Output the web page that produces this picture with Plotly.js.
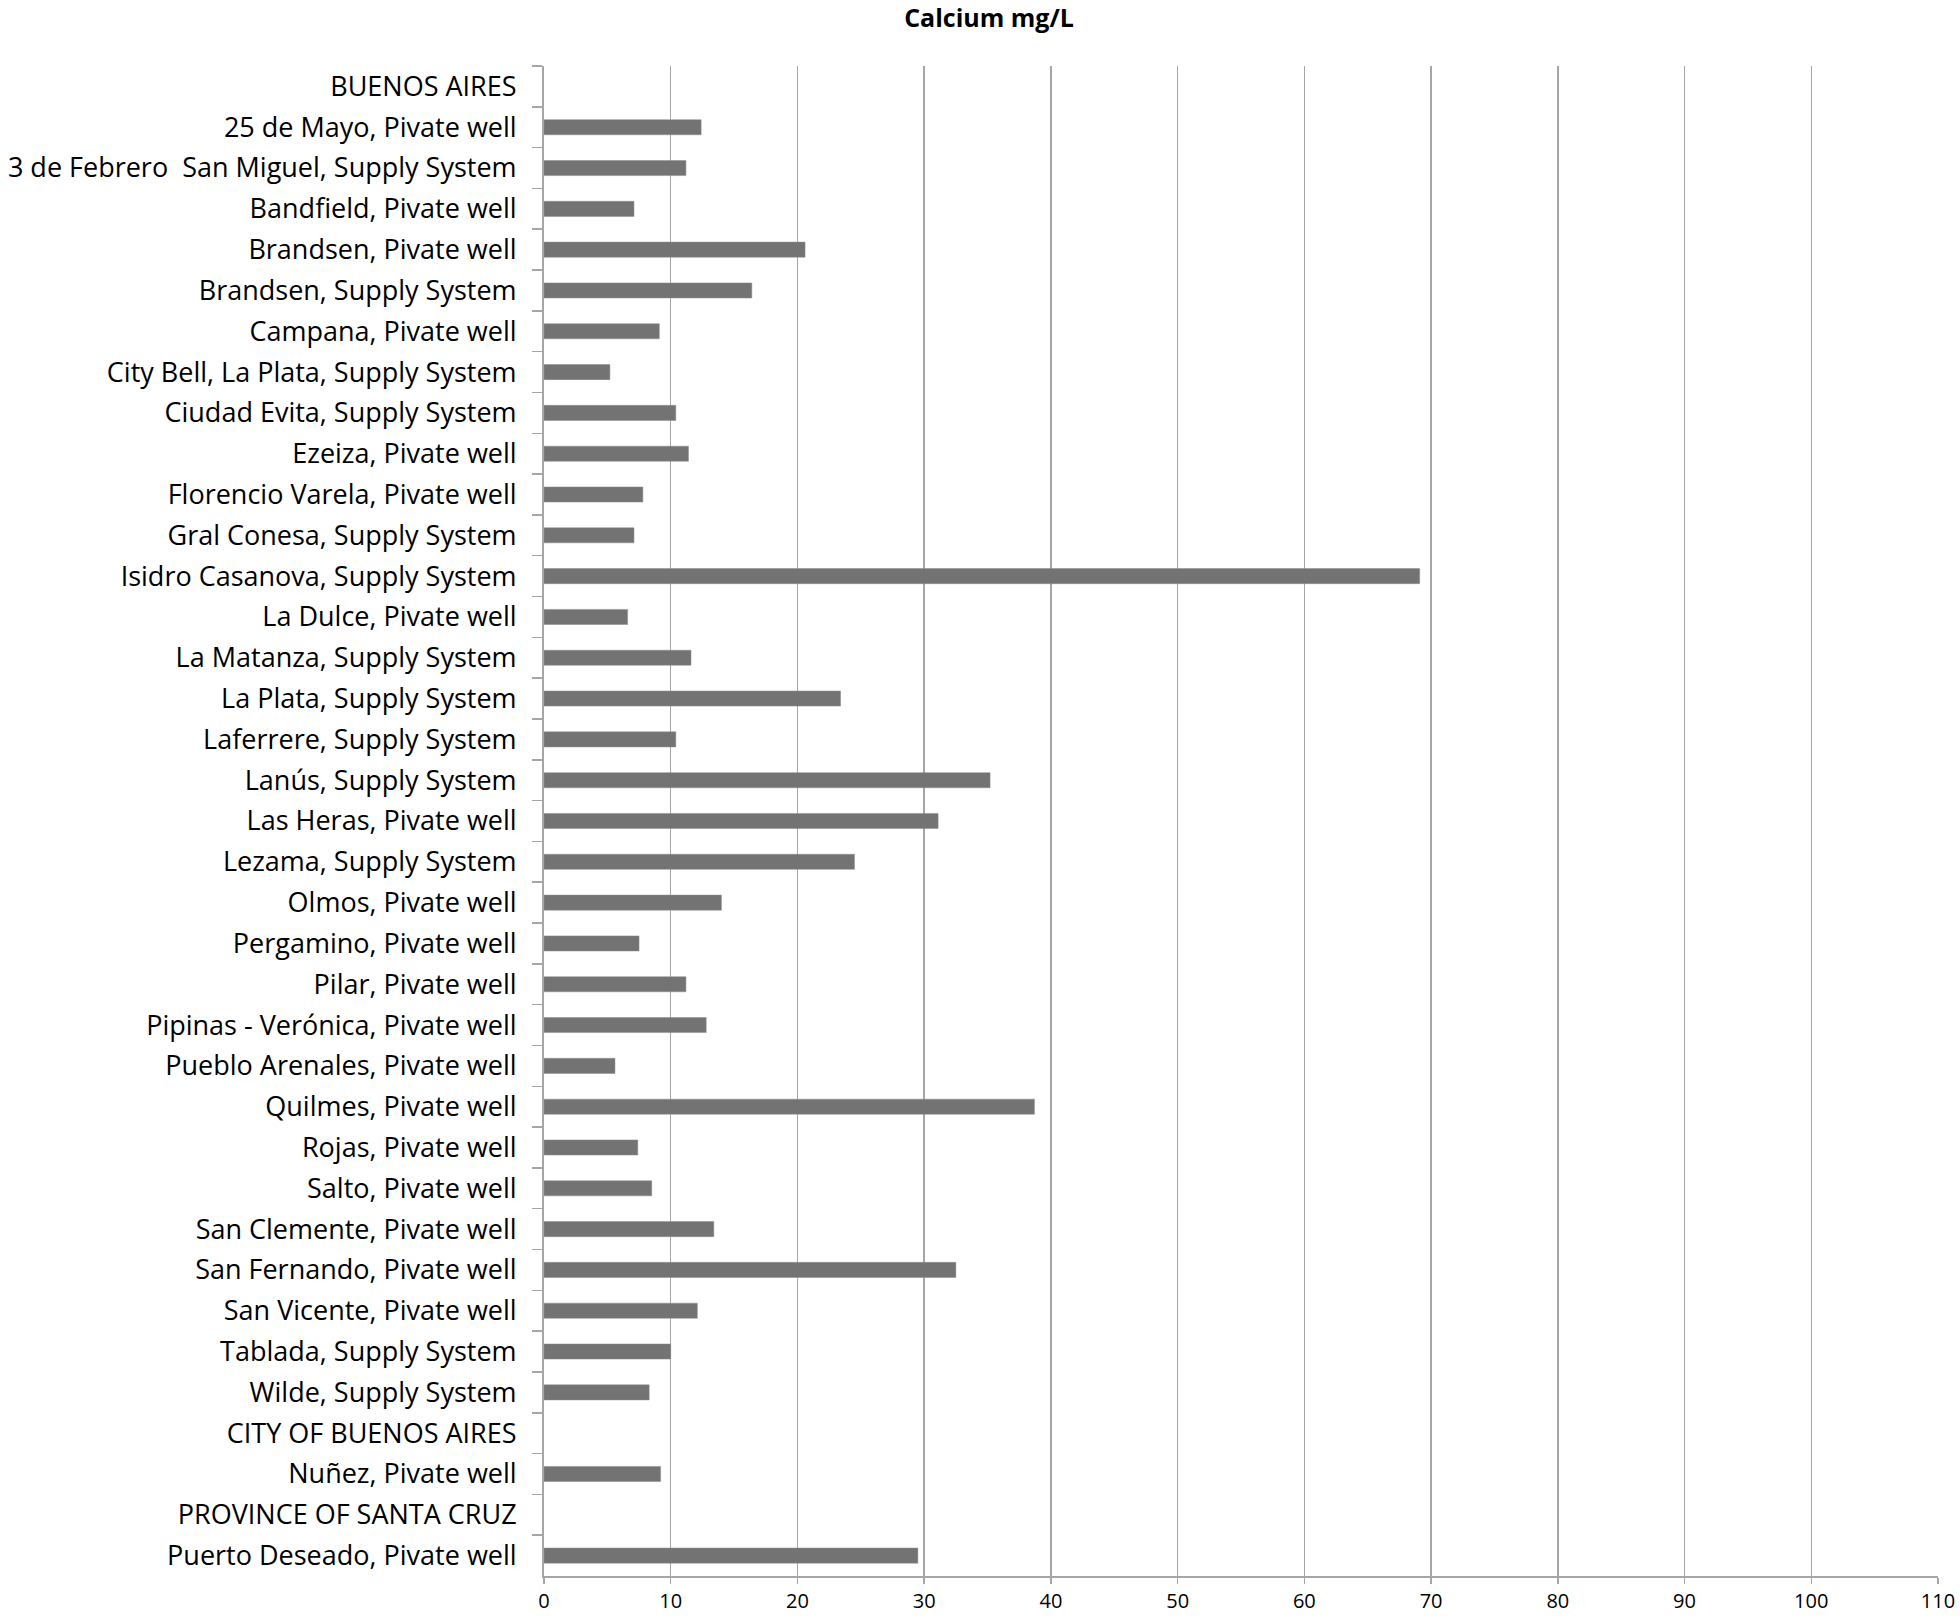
<!DOCTYPE html>
<html>
<head>
<meta charset="utf-8">
<script src="https://cdn.plot.ly/plotly-3.0.1.min.js"></script>
<style>
  html, body { margin: 0; padding: 0; background: #fff; }
  #chart { width: 1960px; height: 1618px; }
</style>
</head>
<body>
<div id="chart"></div>
<script>
// sampling sites, top to bottom (section headers have no value)
var sites = [
  'BUENOS AIRES',
  '25 de Mayo, Pivate well',
  '3 de Febrero \u00a0San Miguel, Supply System',
  'Bandfield, Pivate well',
  'Brandsen, Pivate well',
  'Brandsen, Supply System',
  'Campana, Pivate well',
  'City Bell, La Plata, Supply System',
  'Ciudad Evita, Supply System',
  'Ezeiza, Pivate well',
  'Florencio Varela, Pivate well',
  'Gral Conesa, Supply System',
  'Isidro Casanova, Supply System',
  'La Dulce, Pivate well',
  'La Matanza, Supply System',
  'La Plata, Supply System',
  'Laferrere, Supply System',
  'Lanús, Supply System',
  'Las Heras, Pivate well',
  'Lezama, Supply System',
  'Olmos, Pivate well',
  'Pergamino, Pivate well',
  'Pilar, Pivate well',
  'Pipinas - Verónica, Pivate well',
  'Pueblo Arenales, Pivate well',
  'Quilmes, Pivate well',
  'Rojas, Pivate well',
  'Salto, Pivate well',
  'San Clemente, Pivate well',
  'San Fernando, Pivate well',
  'San Vicente, Pivate well',
  'Tablada, Supply System',
  'Wilde, Supply System',
  'CITY OF BUENOS AIRES',
  'Nuñez, Pivate well',
  'PROVINCE OF SANTA CRUZ',
  'Puerto Deseado, Pivate well'
];

var calcium = [
  null, 12.4, 11.2, 7.1, 20.6, 16.4, 9.1, 5.2, 10.4, 11.4,
  7.8, 7.1, 69.1, 6.6, 11.6, 23.4, 10.4, 35.2, 31.1, 24.5,
  14.0, 7.5, 11.2, 12.8, 5.6, 38.7, 7.4, 8.5, 13.4, 32.5,
  12.1, 10.0, 8.3, null, 9.2, null, 29.5
];

var xTicks = [0, 10, 20, 30, 40, 50, 60, 70, 80, 90, 100, 110];

var trace = {
  type: 'bar',
  orientation: 'h',
  x: calcium,
  y: sites,
  marker: {color: '#737373', line: {color: '#8c8c8c', width: 0.5}},
  hoverinfo: 'x+y'
};

var layout = {
  width: 1960,
  height: 1618,
  paper_bgcolor: '#ffffff',
  plot_bgcolor: '#ffffff',
  font: {family: 'Open Sans, Lato, sans-serif', color: '#000'},
  margin: {l: 544, r: 22, t: 66, b: 42},
  title: {
    text: '<b>Calcium mg/L</b>',
    font: {size: 25, family: 'Open Sans, sans-serif', color: '#000'},
    xref: 'container', x: 0.5046,
    yref: 'container', y: 0.9885, yanchor: 'middle'
  },
  bargap: 0.63,
  showlegend: false,
  xaxis: {
    range: [0, 110],
    tickvals: xTicks,
    ticktext: xTicks.map(String),
    showgrid: true,
    gridcolor: '#a6a6a6',
    gridwidth: 1.5,
    zeroline: false,
    showline: true,
    linecolor: '#a6a6a6',
    linewidth: 2,
    ticks: 'outside',
    ticklen: 6,
    tickcolor: '#a6a6a6',
    tickwidth: 1.5,
    tickfont: {size: 20, color: '#000'},
    ticklabelstandoff: 0,
    fixedrange: true
  },
  yaxis: {
    type: 'category',
    autorange: 'reversed',
    showgrid: false,
    showline: true,
    linecolor: '#a6a6a6',
    linewidth: 2,
    ticks: 'outside',
    tickson: 'boundaries',
    ticklen: 10,
    tickcolor: '#a6a6a6',
    tickwidth: 1.5,
    tickfont: {size: 27, color: '#000'},
    ticklabelstandoff: 20,
    fixedrange: true
  }
};

Plotly.newPlot('chart', [trace], layout, {displayModeBar: false, staticPlot: true});
</script>
</body>
</html>
